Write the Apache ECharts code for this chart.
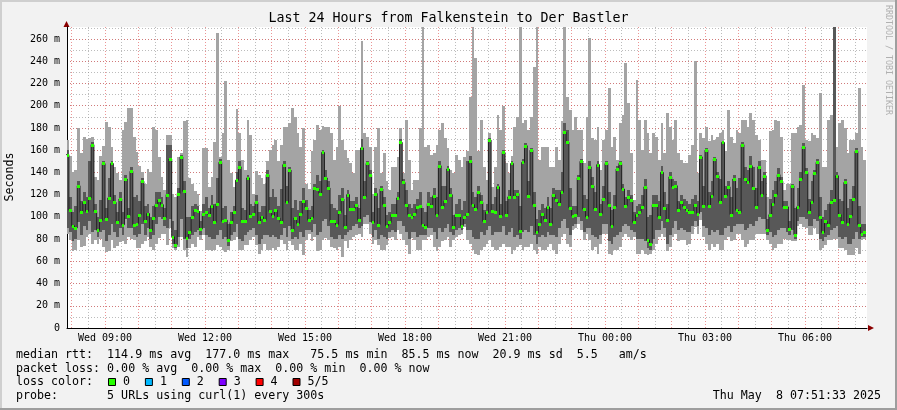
<!DOCTYPE html>
<html><head><meta charset="utf-8">
<script src="https://cdn.jsdelivr.net/npm/echarts@6/dist/echarts.min.js"></script>
<style>html,body{margin:0;padding:0;background:#f2f2f2;}#c{width:897px;height:410px;}</style>
</head><body><div id="c"></div>
<script>
// ---------- data ----------
const chartTitle = 'Last 24 Hours from Falkenstein to Der Bastler';
const startMinute = 470;          // first 5-minute column starts Wed 07:50 (minutes since Wed 00:00)
const stepMinutes = 5;
const viewStart = 471.55;         // Wed 07:51:33
const viewEnd = 1911.55;          // Thu 07:51:33
const xTickValues = [540, 720, 900, 1080, 1260, 1440, 1620, 1800];
const xTickLabels = ['Wed 09:00','Wed 12:00','Wed 15:00','Wed 18:00','Wed 21:00','Thu 00:00','Thu 03:00','Thu 06:00'];
const yTickValues = [0,20,40,60,80,100,120,140,160,180,200,220,240,260];
const yTickLabels = ['0','20 m','40 m','60 m','80 m','100 m','120 m','140 m','160 m','180 m','200 m','220 m','240 m','260 m'];

const median = [
156,106,92,90,128,104,113,105,117,165,105,88,97,148,98,117,148,113,95,116,93,134,101,141,93,94,102,132,96,103,88,99,111,115,111,99,
120,152,82,75,121,154,123,81,86,100,106,105,89,103,104,102,110,95,112,149,96,97,79,95,104,133,145,96,96,135,101,103,113,95,100,97,
138,105,101,106,99,95,147,113,142,88,99,94,103,114,108,97,99,126,125,121,158,135,126,96,96,93,104,116,91,120,107,107,111,97,162,118,
148,138,95,121,93,125,111,92,95,102,102,117,167,131,111,102,100,103,109,110,93,91,112,110,119,102,146,109,114,143,120,91,102,102,92,100,
103,150,111,107,122,113,96,104,169,105,104,127,101,158,102,118,148,118,121,87,149,164,119,160,111,86,94,103,97,109,94,120,115,112,122,176,
167,108,101,102,135,150,107,100,145,128,107,147,103,116,148,111,92,109,143,148,125,110,118,115,95,102,104,109,127,79,76,111,111,100,140,108,
97,136,127,128,106,113,109,106,104,104,111,103,154,110,160,110,119,152,137,113,167,119,127,102,134,106,104,165,134,131,146,126,109,145,120,137,
88,102,112,120,138,132,109,109,89,128,84,109,134,163,140,104,113,139,149,100,86,96,93,113,115,137,102,95,131,94,101,116,159,93,85,86];

const pingMin = [
85,79,69,70,79,73,74,82,85,76,79,76,80,73,68,69,79,72,74,77,78,76,82,80,79,72,72,76,78,82,73,70,76,81,85,85,
75,90,72,70,73,82,70,64,72,76,73,82,79,84,70,70,69,70,75,73,70,68,70,78,79,82,70,70,75,75,79,82,75,67,70,76,
70,70,72,70,73,79,76,70,78,75,70,70,76,66,79,85,78,82,69,70,79,81,79,73,72,70,73,64,78,72,79,82,84,85,82,94,
94,85,76,79,75,70,70,75,81,82,79,88,85,79,75,67,81,79,70,70,79,79,82,84,73,69,73,78,79,82,73,79,82,84,85,91,
79,76,70,67,66,70,73,76,79,73,70,70,73,76,73,73,67,70,73,75,70,73,73,76,70,67,73,70,70,73,76,70,67,76,82,85,
76,73,88,90,94,88,79,85,79,70,73,67,76,85,85,67,66,70,70,73,82,85,82,79,82,67,67,70,67,66,67,70,76,82,85,82,
69,73,82,85,78,79,79,75,76,85,91,85,97,82,76,70,76,73,76,70,70,79,82,78,79,85,85,79,73,76,79,79,85,85,85,85,
79,76,70,72,76,76,80,79,79,78,78,92,94,91,90,84,84,90,85,70,72,75,79,79,80,80,72,72,70,66,66,66,72,67,79,80];

const pingQ1 = [
90,86,78,80,95,84,92,88,96,86,88,82,86,88,78,84,94,86,82,90,84,98,90,90,84,82,85,94,84,90,80,84,94,100,98,92,
90,98,76,72,82,98,80,72,80,84,86,88,84,90,84,82,80,80,84,88,80,82,74,84,86,94,80,78,84,86,88,90,84,76,80,84,
84,82,84,82,80,84,90,82,92,80,82,80,86,82,88,88,86,94,84,86,96,98,92,82,80,80,84,80,84,86,88,92,94,90,92,100,
102,95,82,88,80,84,82,80,86,88,86,96,96,92,86,80,86,86,82,84,84,84,90,90,86,80,90,86,90,94,86,84,88,90,88,94,
88,88,82,80,80,86,84,88,92,84,86,86,86,92,84,86,90,82,84,80,86,88,86,92,84,76,82,84,82,86,84,84,82,90,96,98,
90,84,92,94,100,96,86,90,90,84,82,80,84,94,94,78,76,82,84,86,92,94,92,88,86,80,80,80,78,72,70,80,88,88,96,90,
76,84,90,96,88,90,88,86,86,92,96,92,104,92,90,84,88,86,88,84,84,90,92,86,92,94,94,94,88,90,94,92,96,100,98,98,
84,86,82,84,88,90,90,86,84,88,80,96,100,100,98,92,92,98,96,80,78,82,84,88,90,92,82,80,82,76,76,80,86,80,82,82];

const pingQ3 = [
160,118,104,110,132,114,122,118,150,167,112,100,115,150,108,135,150,120,104,122,104,138,108,145,118,120,114,135,110,112,100,110,122,122,118,108,
165,165,96,88,126,156,132,100,100,110,112,110,96,112,118,108,120,112,135,152,108,110,94,104,110,140,150,108,106,138,112,110,120,104,110,110,
142,118,125,118,110,125,150,128,145,108,115,106,114,126,115,106,110,130,138,132,160,142,132,112,108,106,120,126,102,124,114,114,118,108,170,132,
150,142,104,126,108,128,118,102,104,112,112,122,170,134,124,112,108,112,116,122,108,104,122,118,126,118,150,128,128,146,126,102,112,116,106,114,
150,155,122,118,128,120,106,112,171,112,118,130,112,160,114,124,150,124,124,110,152,166,132,162,122,98,106,112,108,118,108,126,124,124,140,184,
178,126,110,110,138,152,120,116,150,136,122,150,112,128,150,122,106,120,146,150,130,118,124,120,104,110,112,120,134,100,102,120,120,114,146,122,
112,140,134,132,114,120,116,114,112,116,120,114,156,128,162,122,132,154,140,134,168,128,132,118,138,126,135,167,145,142,155,145,126,150,132,140,
98,116,124,132,144,136,114,114,96,130,108,126,140,166,144,116,132,142,152,118,100,106,112,124,271,140,116,114,134,108,116,128,162,110,94,94];

const pingMax = [
169,155,140,142,180,157,172,170,171,172,136,133,155,164,185,181,163,145,139,133,178,185,198,198,172,158,146,140,130,143,140,181,178,154,136,124,
174,174,121,118,154,157,186,187,135,130,123,121,105,162,162,127,136,167,265,154,175,222,151,139,127,197,175,151,142,187,174,121,141,138,135,130,
150,160,165,169,150,165,181,181,184,198,190,175,163,180,130,125,159,169,183,178,182,181,181,175,151,163,200,169,160,153,148,139,160,160,258,175,
172,163,121,163,180,139,157,132,124,145,145,154,180,139,187,151,124,133,133,180,271,163,165,156,157,165,178,184,171,162,142,139,156,151,145,154,
159,208,271,243,159,187,145,133,175,127,145,192,178,200,148,139,155,181,190,271,184,187,178,190,235,271,151,163,163,163,145,145,163,151,186,271,
208,196,178,190,178,178,148,190,261,171,169,181,142,169,178,216,163,172,151,184,192,238,202,157,115,223,187,160,187,175,157,175,172,151,184,157,
193,181,169,187,157,151,148,148,156,165,240,139,175,171,181,168,174,169,172,175,178,159,196,172,166,178,175,187,187,181,193,187,174,169,151,151,
118,177,178,187,186,172,124,130,130,175,175,181,183,219,169,168,175,174,171,211,145,145,187,192,271,163,184,187,180,157,169,169,175,216,163,151];

const legendLines = [
  'median rtt:  114.9 ms avg  177.0 ms max   75.5 ms min  85.5 ms now  20.9 ms sd  5.5   am/s',
  'packet loss: 0.00 % avg  0.00 % max  0.00 % min  0.00 % now',
  'loss color:',
  'probe:       5 URLs using curl(1) every 300s'
];
const lossLabels = ['0','1','2','3','4','5/5'];
const lossColors = ['#26ff00','#00b8ff','#0059ff','#7e00ff','#ff0000','#a10000'];
const dateStamp = 'Thu May  8 07:51:33 2025';

// ---------- chart ----------
const YMAX = 270.8;
const MONO = '"DejaVu Sans Mono", monospace';
const N = median.length;
const colStart = i => startMinute + i * stepMinutes;
const smokeData = median.map((m, i) => [colStart(i), colStart(i) + stepMinutes, pingMin[i], pingQ1[i], pingQ3[i], pingMax[i]]);
const medianLine = median.map((m, i) => [colStart(i), m]);
medianLine.push([colStart(N), median[N - 1]]);
const tickData = median.map((m, i) => [colStart(i), colStart(i) + stepMinutes, m]);

function span(params, api) {
  const cs = params.coordSys;
  const xa = Math.round(api.coord([api.value(0), 0])[0]);
  const xb = Math.round(api.coord([api.value(1), 0])[0]);
  return [Math.max(xa, cs.x), Math.min(xb, cs.x + cs.width), cs];
}
function renderSmoke(params, api) {
  const [L, R, cs] = span(params, api);
  if (R <= L) return;
  const py = v => Math.round(Math.max(cs.y, api.coord([viewStart, v])[1]));
  const yLo = py(api.value(2)), yQ1 = py(api.value(3)), yQ3 = py(api.value(4)), yHi = py(api.value(5));
  return { type: 'group', children: [
    { type: 'rect', shape: { x: L, y: yHi, width: R - L, height: yLo - yHi }, style: { fill: '#a4a4a4' } },
    { type: 'rect', shape: { x: L, y: yQ3, width: R - L, height: yQ1 - yQ3 }, style: { fill: '#585858' } }
  ]};
}
function renderTick(params, api) {
  const [L, R] = span(params, api);
  if (R <= L) return;
  const ym = Math.round(api.coord([viewStart, api.value(2)])[1]);
  return { type: 'rect', shape: { x: L, y: ym - 1, width: R - L, height: 3 }, style: { fill: '#26ff00' } };
}

const halfHours = [], hours = [];
for (let t = 480; t <= 1920; t += 30) { if (t % 60 === 0) hours.push(t); else halfHours.push(t); }

const gridMinor = { lineStyle: { color: 'rgba(143,143,143,0.6)', width: 1, type: [1, 2] } };
const gridMajor = { lineStyle: { color: 'rgba(222,79,79,0.6)', width: 1, type: [1, 2] } };

const option = {
  animation: false,
  backgroundColor: '#f2f2f2',
  grid: { left: 67, right: 30, top: 27, bottom: 82, show: true, backgroundColor: '#ffffff', borderWidth: 0 },
  xAxis: [
    { type: 'value', min: viewStart, max: viewEnd, position: 'bottom',
      axisLine: { show: true, lineStyle: { color: '#000', width: 1 } },
      axisTick: { show: false, customValues: xTickValues },
      axisLabel: { customValues: xTickValues, formatter: v => xTickLabels[xTickValues.indexOf(v)] || '',
        fontFamily: MONO, fontSize: 10, color: '#000', margin: 5 },
      splitLine: { show: false } },
    { type: 'value', min: viewStart, max: viewEnd, axisLine: { show: false }, axisLabel: { show: false },
      axisTick: { show: false, customValues: halfHours }, splitLine: Object.assign({ show: true }, gridMinor) },
    { type: 'value', min: viewStart, max: viewEnd, axisLine: { show: false }, axisLabel: { show: false },
      axisTick: { show: false, customValues: hours }, splitLine: Object.assign({ show: true }, gridMajor) }
  ],
  yAxis: [
    { type: 'value', min: 0, max: YMAX, interval: 20, position: 'left',
      axisLine: { show: true, lineStyle: { color: '#000', width: 1 } }, axisTick: { show: false },
      axisLabel: { showMaxLabel: false, formatter: v => { const k = yTickValues.indexOf(v); return k >= 0 ? yTickLabels[k] : ''; },
        fontFamily: MONO, fontSize: 10, color: '#000', margin: 7 },
      splitLine: { show: false } },
    { type: 'value', min: 0, max: YMAX, interval: 10, axisLine: { show: false }, axisLabel: { show: false }, axisTick: { show: false },
      splitLine: Object.assign({ show: true, showMinLine: false, showMaxLine: false }, gridMinor) },
    { type: 'value', min: 0, max: YMAX, interval: 20, axisLine: { show: false }, axisLabel: { show: false }, axisTick: { show: false },
      splitLine: Object.assign({ show: true, showMinLine: false, showMaxLine: false }, gridMajor) }
  ],
  series: [
    { type: 'custom', name: 'smoke', renderItem: renderSmoke, data: smokeData, xAxisIndex: 0, yAxisIndex: 0,
      encode: { x: [0, 1], y: [2, 5] }, z: 2, silent: true },
    { type: 'line', name: 'median', data: medianLine, step: 'end', showSymbol: false, xAxisIndex: 0, yAxisIndex: 0,
      lineStyle: { color: '#202020', width: 1 }, z: 3, silent: true },
    { type: 'custom', name: 'loss0', renderItem: renderTick, data: tickData, xAxisIndex: 0, yAxisIndex: 0,
      encode: { x: [0, 1], y: 2 }, z: 4, silent: true }
  ],
  graphic: []
};

const g = option.graphic;
g.push({ type: 'rect', shape: { x: 0, y: 0, width: 897, height: 2 }, style: { fill: '#cfcfcf' }, silent: true });
g.push({ type: 'rect', shape: { x: 0, y: 0, width: 2, height: 410 }, style: { fill: '#cfcfcf' }, silent: true });
g.push({ type: 'rect', shape: { x: 0, y: 408, width: 897, height: 2 }, style: { fill: '#9e9e9e' }, silent: true });
g.push({ type: 'rect', shape: { x: 895, y: 0, width: 2, height: 410 }, style: { fill: '#9e9e9e' }, silent: true });
g.push({ type: 'polygon', shape: { points: [[63.5, 27], [69.5, 27], [66.5, 21]] }, style: { fill: '#8b0000' }, silent: true });
g.push({ type: 'polygon', shape: { points: [[868, 325], [868, 331], [874, 328]] }, style: { fill: '#8b0000' }, silent: true });
g.push({ type: 'text', x: 448.5, y: 19, style: { text: chartTitle, font: '13.3px ' + MONO, fill: '#000', textAlign: 'center', textVerticalAlign: 'middle' }, silent: true });
g.push({ type: 'text', x: 10, y: 177, rotation: Math.PI / 2, style: { text: 'Seconds', font: '11.65px ' + MONO, fill: '#000', textAlign: 'center', textVerticalAlign: 'middle' }, silent: true });
g.push({ type: 'text', x: 888.5, y: 60, rotation: -Math.PI / 2, style: { text: 'RRDTOOL / TOBI OETIKER', font: '8.3px ' + MONO, fill: '#b0b0b0', textAlign: 'center', textVerticalAlign: 'middle' }, silent: true });
const rowY = [355, 368.5, 382, 396];
legendLines.forEach((s, k) => g.push({ type: 'text', x: 16, y: rowY[k], style: { text: s, font: '11.65px ' + MONO, fill: '#000', textAlign: 'left', textVerticalAlign: 'middle' }, silent: true }));
lossLabels.forEach((s, k) => {
  g.push({ type: 'rect', shape: { x: 108.5 + 36.9 * k, y: 378.5, width: 7, height: 7 }, style: { fill: lossColors[k], stroke: '#000', lineWidth: 1 }, silent: true });
  g.push({ type: 'text', x: 123 + 36.9 * k, y: 382, style: { text: s, font: '11.65px ' + MONO, fill: '#000', textAlign: 'left', textVerticalAlign: 'middle' }, silent: true });
});
g.push({ type: 'text', x: 881, y: 396, style: { text: dateStamp, font: '11.65px ' + MONO, fill: '#000', textAlign: 'right', textVerticalAlign: 'middle' }, silent: true });

const chart = echarts.init(document.getElementById('c'), null, { renderer: 'canvas', width: 897, height: 410 });
chart.setOption(option);
</script></body></html>
